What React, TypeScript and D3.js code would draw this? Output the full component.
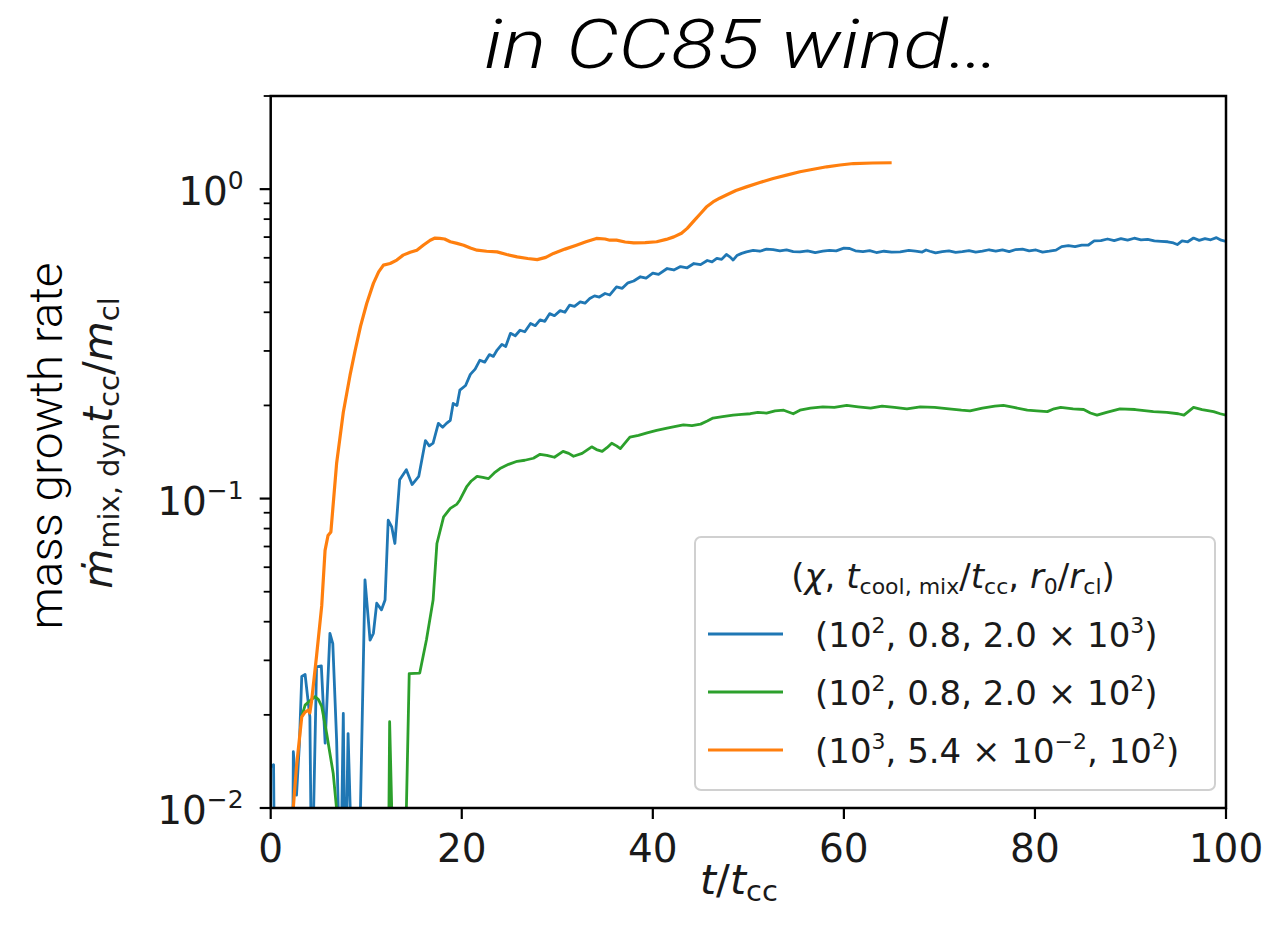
import React from "react";
import * as d3 from "d3";

// Simulation time axis (t / t_cc) and mass growth rate series, [t, rate]
const blueSeries: [number, number][] = [
  [0, 0.0136], [0.3, 0.0138], [0.45, 0.004], [2.25, 0.004], [2.37, 0.0152], [2.7, 0.011], [3.0, 0.016],
  [3.25, 0.0266], [3.6, 0.027], [4.1, 0.0197], [4.3, 0.005], [4.8, 0.0286], [5.3, 0.0288], [5.7, 0.0162],
  [6.2, 0.0367], [6.5, 0.034], [6.9, 0.0166], [7.3, 0.005], [7.6, 0.0202], [7.8, 0.005], [8.1, 0.0174],
  [8.6, 0.005], [9.2, 0.005], [9.87, 0.0546], [10.4, 0.0349], [10.75, 0.0367], [11.1, 0.0459], [11.6, 0.0437],
  [11.97, 0.047], [12.3, 0.0851], [12.67, 0.081], [13.0, 0.0716], [13.5, 0.115], [14.2, 0.124], [14.8, 0.111],
  [15.5, 0.118], [16.2, 0.154], [16.6, 0.148], [17.0, 0.151], [17.55, 0.175], [18.0, 0.17], [18.4, 0.175],
  [18.8, 0.179], [19.1, 0.203], [19.5, 0.2], [19.8, 0.224], [20.4, 0.232], [20.9, 0.252], [21.4, 0.262],
  [21.9, 0.28], [22.4, 0.276], [22.9, 0.292], [23.3, 0.288], [23.7, 0.302], [24.2, 0.315], [24.6, 0.31],
  [25.1, 0.342], [25.6, 0.336], [26.1, 0.35], [26.6, 0.346], [27.2, 0.368], [27.7, 0.362], [28.2, 0.378],
  [28.7, 0.374], [29.2, 0.396], [29.7, 0.39], [30.3, 0.405], [30.8, 0.4], [31.3, 0.422], [31.8, 0.418],
  [32.4, 0.432], [32.9, 0.428], [33.4, 0.443], [33.9, 0.452], [34.4, 0.448], [35.0, 0.46], [35.5, 0.455],
  [36.2, 0.483], [36.8, 0.478], [37.4, 0.498], [38.0, 0.505], [38.7, 0.521], [39.3, 0.516], [40.0, 0.535],
  [40.6, 0.53], [41.5, 0.554], [42.2, 0.548], [42.9, 0.562], [43.6, 0.557], [44.3, 0.575], [45.0, 0.57],
  [45.7, 0.588], [46.2, 0.582], [46.7, 0.597], [47.2, 0.593], [47.7, 0.615], [48.1, 0.603], [48.4, 0.59],
  [48.8, 0.61], [49.3, 0.62], [49.8, 0.627], [50.5, 0.634], [51.2, 0.63], [51.9, 0.64], [52.6, 0.638],
  [53.3, 0.632], [54.0, 0.636], [54.7, 0.628], [55.4, 0.627], [56.2, 0.632], [57.0, 0.624], [57.8, 0.63],
  [58.5, 0.634], [59.2, 0.632], [60.0, 0.645], [60.6, 0.643], [61.2, 0.632], [62.0, 0.628], [62.7, 0.633],
  [63.4, 0.624], [64.2, 0.63], [65.0, 0.626], [65.9, 0.627], [66.8, 0.634], [67.5, 0.63], [68.2, 0.626],
  [68.6, 0.636], [69.0, 0.63], [69.6, 0.622], [70.3, 0.628], [71.0, 0.632], [71.7, 0.625], [72.4, 0.628],
  [73.1, 0.633], [73.8, 0.626], [74.5, 0.63], [75.2, 0.637], [75.9, 0.631], [76.6, 0.636], [77.3, 0.628],
  [78.0, 0.638], [78.7, 0.64], [79.4, 0.632], [80.1, 0.636], [80.8, 0.626], [81.5, 0.63], [82.2, 0.635],
  [82.8, 0.652], [83.5, 0.657], [84.2, 0.652], [84.9, 0.659], [85.6, 0.66], [86.2, 0.68], [86.9, 0.682],
  [87.6, 0.69], [88.3, 0.682], [89.0, 0.692], [89.7, 0.684], [90.4, 0.694], [91.1, 0.686], [91.8, 0.688],
  [92.5, 0.68], [93.2, 0.678], [93.9, 0.676], [94.5, 0.67], [94.9, 0.662], [95.4, 0.68], [96.0, 0.676],
  [96.6, 0.695], [97.2, 0.683], [97.8, 0.692], [98.4, 0.686], [99.0, 0.697], [99.5, 0.684], [100, 0.678],
];

const greenSeries: [number, number][] = [
  [3.2, 0.0195], [3.6, 0.0215], [4.1, 0.0222], [4.64, 0.0229], [5.0, 0.0224], [5.34, 0.0213], [5.86, 0.0174],
  [6.2, 0.015], [6.55, 0.0129], [6.9, 0.0099], [7.2, 0.005], [12.3, 0.005], [12.45, 0.019], [12.9, 0.005],
  [14.0, 0.005], [14.5, 0.0272], [15.6, 0.0273], [16.3, 0.0349], [17.0, 0.047], [17.4, 0.0716], [18.1, 0.0873],
  [18.8, 0.093], [19.5, 0.096], [19.8, 0.099], [20.5, 0.109], [21.0, 0.114], [21.6, 0.118], [22.2, 0.117],
  [22.8, 0.116], [23.4, 0.121], [24.0, 0.125], [24.9, 0.129], [25.8, 0.132], [26.6, 0.133], [27.5, 0.135],
  [28.2, 0.139], [28.9, 0.138], [29.7, 0.136], [30.6, 0.142], [31.2, 0.14], [31.7, 0.137], [32.6, 0.14],
  [33.6, 0.147], [34.1, 0.144], [34.7, 0.142], [35.2, 0.146], [35.7, 0.151], [36.2, 0.148], [36.6, 0.145],
  [37.6, 0.158], [38.5, 0.16], [39.4, 0.163], [40.4, 0.166], [41.5, 0.169], [42.4, 0.171], [43.2, 0.173],
  [44.1, 0.172], [45.0, 0.174], [45.7, 0.178], [46.3, 0.182], [47.3, 0.184], [48.4, 0.186], [49.3, 0.187],
  [50.2, 0.188], [51.0, 0.19], [51.9, 0.189], [52.8, 0.192], [53.7, 0.193], [54.7, 0.188], [55.4, 0.193],
  [56.5, 0.196], [57.8, 0.198], [59.0, 0.197], [60.3, 0.2], [61.5, 0.198], [62.8, 0.196], [64.0, 0.199],
  [65.3, 0.197], [66.6, 0.195], [68.0, 0.198], [69.5, 0.197], [71.0, 0.195], [72.3, 0.193], [73.2, 0.192],
  [74.5, 0.196], [75.8, 0.199], [76.7, 0.2], [77.8, 0.197], [79.2, 0.193], [80.2, 0.192], [81.3, 0.191],
  [82.0, 0.195], [82.7, 0.197], [84.0, 0.195], [85.1, 0.194], [85.8, 0.189], [86.5, 0.186], [87.5, 0.19],
  [88.9, 0.195], [90.5, 0.194], [92.4, 0.191], [93.8, 0.19], [95.0, 0.188], [95.6, 0.186], [96.6, 0.197],
  [97.5, 0.194], [98.7, 0.191], [99.4, 0.188], [100, 0.186],
];

const orangeSeries: [number, number][] = [
  [2.35, 0.0099], [2.7, 0.0136], [3.25, 0.0197], [3.6, 0.0204], [3.94, 0.0207], [4.1, 0.0203], [4.29, 0.0223],
  [4.8, 0.031], [5.34, 0.045], [5.69, 0.068], [6.0, 0.076], [6.3, 0.078], [6.9, 0.13], [7.6, 0.19], [8.3, 0.25],
  [8.83, 0.3], [9.4, 0.36], [10.05, 0.427], [10.75, 0.496], [11.3, 0.54], [11.8, 0.568], [12.5, 0.575],
  [13.2, 0.59], [13.86, 0.612], [14.6, 0.625], [15.3, 0.635], [16.0, 0.66], [16.7, 0.684], [17.2, 0.695],
  [17.7, 0.693], [18.2, 0.69], [18.8, 0.676], [19.5, 0.668], [20.2, 0.659], [20.9, 0.645], [21.6, 0.635],
  [22.6, 0.63], [23.7, 0.627], [24.7, 0.615], [25.8, 0.604], [26.9, 0.597], [27.9, 0.592], [28.8, 0.602],
  [29.6, 0.62], [30.8, 0.64], [32.0, 0.659], [33.0, 0.676], [34.1, 0.693], [35.0, 0.69], [35.5, 0.684],
  [36.2, 0.684], [37.1, 0.675], [38.0, 0.67], [39.2, 0.672], [40.4, 0.676], [41.4, 0.688], [42.2, 0.701],
  [43.0, 0.72], [43.6, 0.747], [44.3, 0.79], [45.0, 0.834], [45.6, 0.875], [46.3, 0.909], [47.0, 0.935],
  [47.7, 0.957], [48.7, 0.99], [49.8, 1.017], [51.2, 1.05], [52.6, 1.083], [54.0, 1.11], [55.4, 1.138],
  [56.8, 1.16], [58.2, 1.181], [59.6, 1.197], [61.0, 1.21], [63.0, 1.215], [65.0, 1.217],
];

const xTicks = [0, 20, 40, 60, 80, 100];
const yMajorExps = [-2, -1, 0];
const seriesColors = ["#1f77b4", "#2ca02c", "#ff7f0e"];

const W = 1268;
const H = 925;
const plot = { left: 270.7, right: 1226, top: 96, bottom: 808 };

const MATH = "'DejaVu Sans', sans-serif";
const LIGHT = "'Roboto', 'Open Sans', 'Liberation Sans', sans-serif";

export default function App() {
  const x = d3.scaleLinear().domain([0, 100]).range([plot.left, plot.right]);
  const y = d3.scaleLog().domain([0.01, 2]).range([plot.bottom, plot.top]);

  const line = d3
    .line<[number, number]>()
    .x((d) => x(d[0]))
    .y((d) => y(Math.max(d[1], 1e-4)));

  const minorTicks: number[] = [];
  for (const e of [-2, -1, 0]) {
    for (let k = 2; k <= 9; k++) {
      const v = k * Math.pow(10, e);
      if (v <= 2.0001) minorTicks.push(v);
    }
  }

  const tickFs = 39;
  const supFs = 25;
  const legFs = 34;
  const legSup = 22;
  const legSub = 22;

  const legendRows = [
    { color: seriesColors[0], y: 634, parts: [["(10", 0], ["2", 1], [", 0.8, 2.0 × 10", 0], ["3", 1], [")", 0]] },
    { color: seriesColors[1], y: 692, parts: [["(10", 0], ["2", 1], [", 0.8, 2.0 × 10", 0], ["2", 1], [")", 0]] },
    { color: seriesColors[2], y: 750, parts: [["(10", 0], ["3", 1], [", 5.4 × 10", 0], ["−2", 1], [", 10", 0], ["2", 1], [")", 0]] },
  ] as { color: string; y: number; parts: [string, number][] }[];

  return (
    <svg width={W} height={H} style={{ position: "absolute", left: 0, top: 0, background: "#fff" }}>
      <defs>
        <clipPath id="plotClip">
          <rect x={plot.left} y={plot.top} width={plot.right - plot.left} height={plot.bottom - plot.top} />
        </clipPath>
      </defs>
      <rect width={W} height={H} fill="#fff" />

      {/* Title */}
      <text x={484} y={68} fontFamily={LIGHT} fontWeight={300} fontStyle="italic" fontSize={68} fill="#000"
        textLength={516} lengthAdjust="spacingAndGlyphs">
        in CC85 wind…
      </text>

      {/* Series */}
      <g clipPath="url(#plotClip)" fill="none" strokeLinejoin="round" strokeLinecap="butt">
        <path d={line(blueSeries) ?? ""} stroke={seriesColors[0]} strokeWidth={2.8} />
        <path d={line(greenSeries) ?? ""} stroke={seriesColors[1]} strokeWidth={2.8} />
        <path d={line(orangeSeries) ?? ""} stroke={seriesColors[2]} strokeWidth={3.2} />
      </g>

      {/* Frame */}
      <rect x={plot.left} y={plot.top} width={plot.right - plot.left} height={plot.bottom - plot.top} fill="none" stroke="#000" strokeWidth={2.5} />

      {/* x ticks */}
      {xTicks.map((t) => (
        <g key={"xt" + t}>
          <line x1={x(t)} x2={x(t)} y1={plot.bottom} y2={plot.bottom + 11} stroke="#000" strokeWidth={2.2} />
          <text x={x(t)} y={862} textAnchor="middle" fontFamily={MATH} fontSize={tickFs} fill="#1a1a1a">
            {t}
          </text>
        </g>
      ))}

      {/* y ticks */}
      {minorTicks.map((v) => (
        <line key={"ym" + v} x1={plot.left - 7} x2={plot.left} y1={y(v)} y2={y(v)} stroke="#000" strokeWidth={1.8} />
      ))}
      {yMajorExps.map((e) => {
        const yy = y(Math.pow(10, e));
        return (
          <g key={"yM" + e}>
            <line x1={plot.left - 11} x2={plot.left} y1={yy} y2={yy} stroke="#000" strokeWidth={2.2} />
            <text x={plot.left - 27} y={yy + 16} textAnchor="end" fontFamily={MATH} fontSize={tickFs} fill="#1a1a1a">
              <tspan>10</tspan>
              <tspan fontSize={supFs} dy={-16}>{e < 0 ? "−" + Math.abs(e) : String(e)}</tspan>
            </text>
          </g>
        );
      })}

      {/* x label */}
      <text x={700} y={894} fontFamily={MATH} fontSize={41} fill="#1a1a1a">
        <tspan fontStyle="italic">t</tspan>
        <tspan>/</tspan>
        <tspan fontStyle="italic">t</tspan>
        <tspan fontSize={29} dy={7}>cc</tspan>
      </text>

      {/* y label */}
      <text transform="translate(62,446) rotate(-90)" textAnchor="middle" fontFamily={LIGHT} fontWeight={300} fontSize={46} fill="#000"
        textLength={367} lengthAdjust="spacingAndGlyphs">
        mass growth rate
      </text>
      <text transform="translate(112,443) rotate(-90)" textAnchor="middle" fontFamily={MATH} fontSize={41} fill="#1a1a1a">
        <tspan fontStyle="italic">ṁ</tspan>
        <tspan fontSize={29} dy={7}>mix, dyn</tspan>
        <tspan fontStyle="italic" dy={-7}>t</tspan>
        <tspan fontSize={29} dy={7}>cc</tspan>
        <tspan dy={-7}>/</tspan>
        <tspan fontStyle="italic">m</tspan>
        <tspan fontSize={29} dy={7}>cl</tspan>
      </text>

      {/* Legend */}
      <g>
        <rect x={695} y={537} width={520} height={253} rx={6} fill="#fff" fillOpacity={0.85} stroke="#d0d0d0" strokeWidth={2} />
        <text x={953} y={588} textAnchor="middle" fontFamily={MATH} fontSize={legFs} fill="#1a1a1a">
          <tspan>(</tspan>
          <tspan fontStyle="italic">χ</tspan>
          <tspan>, </tspan>
          <tspan fontStyle="italic">t</tspan>
          <tspan fontSize={legSub} dy={6}>cool, mix</tspan>
          <tspan dy={-6}>/</tspan>
          <tspan fontStyle="italic">t</tspan>
          <tspan fontSize={legSub} dy={6}>cc</tspan>
          <tspan dy={-6}>, </tspan>
          <tspan fontStyle="italic">r</tspan>
          <tspan fontSize={legSub} dy={6}>0</tspan>
          <tspan dy={-6}>/</tspan>
          <tspan fontStyle="italic">r</tspan>
          <tspan fontSize={legSub} dy={6}>cl</tspan>
          <tspan dy={-6}>)</tspan>
        </text>
        {legendRows.map((r, i) => (
          <g key={"lg" + i}>
            <line x1={708} x2={783} y1={r.y} y2={r.y} stroke={r.color} strokeWidth={3} />
            <text x={815} y={r.y + 13} fontFamily={MATH} fontSize={legFs} fill="#1a1a1a">
              {r.parts.map(([s, sup], j) => {
                const prevSup = j > 0 ? r.parts[j - 1][1] : 0;
                const dy = sup && !prevSup ? -14 : !sup && prevSup ? 14 : 0;
                return (
                  <tspan key={j} fontSize={sup ? legSup : legFs} dy={dy}>
                    {s}
                  </tspan>
                );
              })}
            </text>
          </g>
        ))}
      </g>
    </svg>
  );
}
